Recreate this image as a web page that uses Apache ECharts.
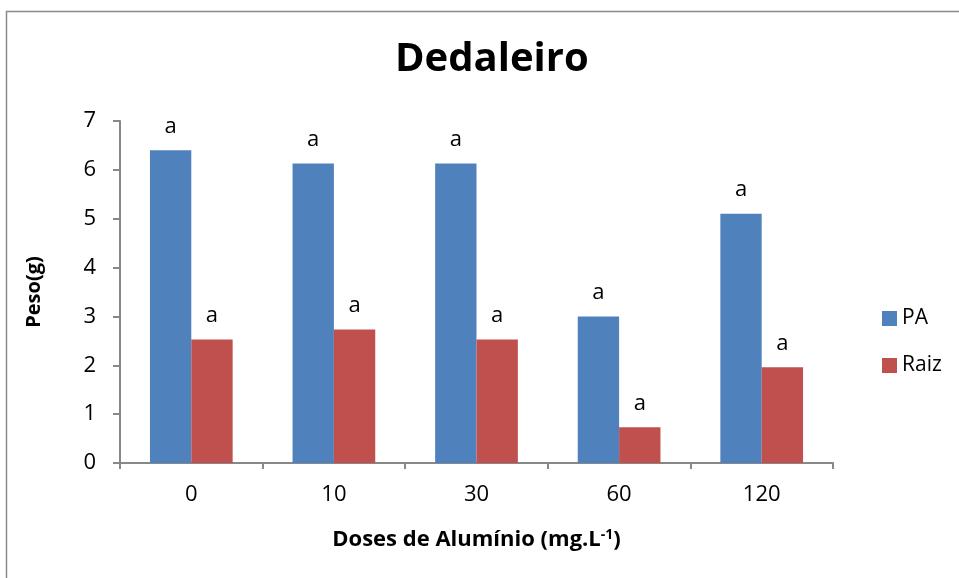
<!DOCTYPE html>
<html><head><meta charset="utf-8">
<script src="https://cdn.jsdelivr.net/npm/echarts@6/dist/echarts.min.js"></script>
<style>html,body{margin:0;padding:0;background:#fff}#c{width:959px;height:578px}</style>
</head><body><div id="c"></div>
<script>
const categories = ['0', '10', '30', '60', '120'];
const paValues = [6.4, 6.13, 6.13, 3.0, 5.1];
const raizValues = [2.53, 2.73, 2.53, 0.73, 1.96];
const paLetters = ['a', 'a', 'a', 'a', 'a'];
const raizLetters = ['a', 'a', 'a', 'a', 'a'];
const yTicks = [0, 1, 2, 3, 4, 5, 6, 7];

const FONT = '"Open Sans", Lato, sans-serif';
const chart = echarts.init(document.getElementById('c'), null, {renderer: 'canvas'});
const lbl = (letters) => ({
  show: true, position: 'top', distance: 13,
  formatter: p => letters[p.dataIndex],
  fontFamily: FONT, fontSize: 22, color: '#000'
});
chart.setOption({
  animation: false,
  backgroundColor: '#fff',
  graphic: [{
    type: 'rect', left: 4, top: 9, shape: {x: 0, y: 0, width: 1100, height: 800},
    style: {fill: 'none', stroke: '#8a8a8a', lineWidth: 1.5}, silent: true
  }],
  title: {
    text: 'Dedaleiro', left: 390, top: 35,
    textStyle: {fontFamily: FONT, fontWeight: 'bold', fontSize: 40, color: '#000'}
  },
  legend: {
    orient: 'vertical', left: 877, top: 303, itemWidth: 15, itemHeight: 15, itemGap: 26, itemTextGap: 7,
    icon: 'rect',
    textStyle: {fontFamily: FONT, fontSize: 21, color: '#000'},
    data: ['PA', 'Raiz']
  },
  grid: {left: 120, right: 126, top: 121, bottom: 115, containLabel: false},
  xAxis: {
    type: 'category', data: categories,
    axisLine: {lineStyle: {color: '#888', width: 2}},
    axisTick: {show: true, length: 6, lineStyle: {color: '#888', width: 2}},
    axisLabel: {fontFamily: FONT, fontSize: 22, color: '#000', margin: 21},
    name: 'Doses de Alumínio (mg.L{sup|-1})',
    nameLocation: 'middle', nameGap: 65,
    nameTextStyle: {
      fontFamily: FONT, fontWeight: 'bold', fontSize: 22, color: '#000',
      rich: {sup: {fontFamily: FONT, fontWeight: 'bold', fontSize: 14, color: '#000', verticalAlign: 'top', padding: [0, 0, 9, 0]}}
    }
  },
  yAxis: {
    type: 'value', min: yTicks[0], max: yTicks[yTicks.length - 1], interval: 1,
    splitLine: {show: false},
    axisLine: {show: true, lineStyle: {color: '#888', width: 2}},
    axisTick: {show: true, length: 7, lineStyle: {color: '#888', width: 2}},
    axisLabel: {fontFamily: FONT, fontSize: 22, color: '#000', margin: 24},
    name: 'Peso(g)', nameLocation: 'middle', nameGap: 76, nameRotate: 90,
    nameTextStyle: {fontFamily: FONT, fontWeight: 'bold', fontSize: 20, color: '#000'}
  },
  series: [
    {name: 'PA', type: 'bar', data: paValues, barGap: '0%', barCategoryGap: '42%',
     itemStyle: {color: '#4F81BD'}, label: lbl(paLetters)},
    {name: 'Raiz', type: 'bar', data: raizValues, barGap: '0%', barCategoryGap: '42%',
     itemStyle: {color: '#C0504D'}, label: lbl(raizLetters)}
  ]
});
</script></body></html>
